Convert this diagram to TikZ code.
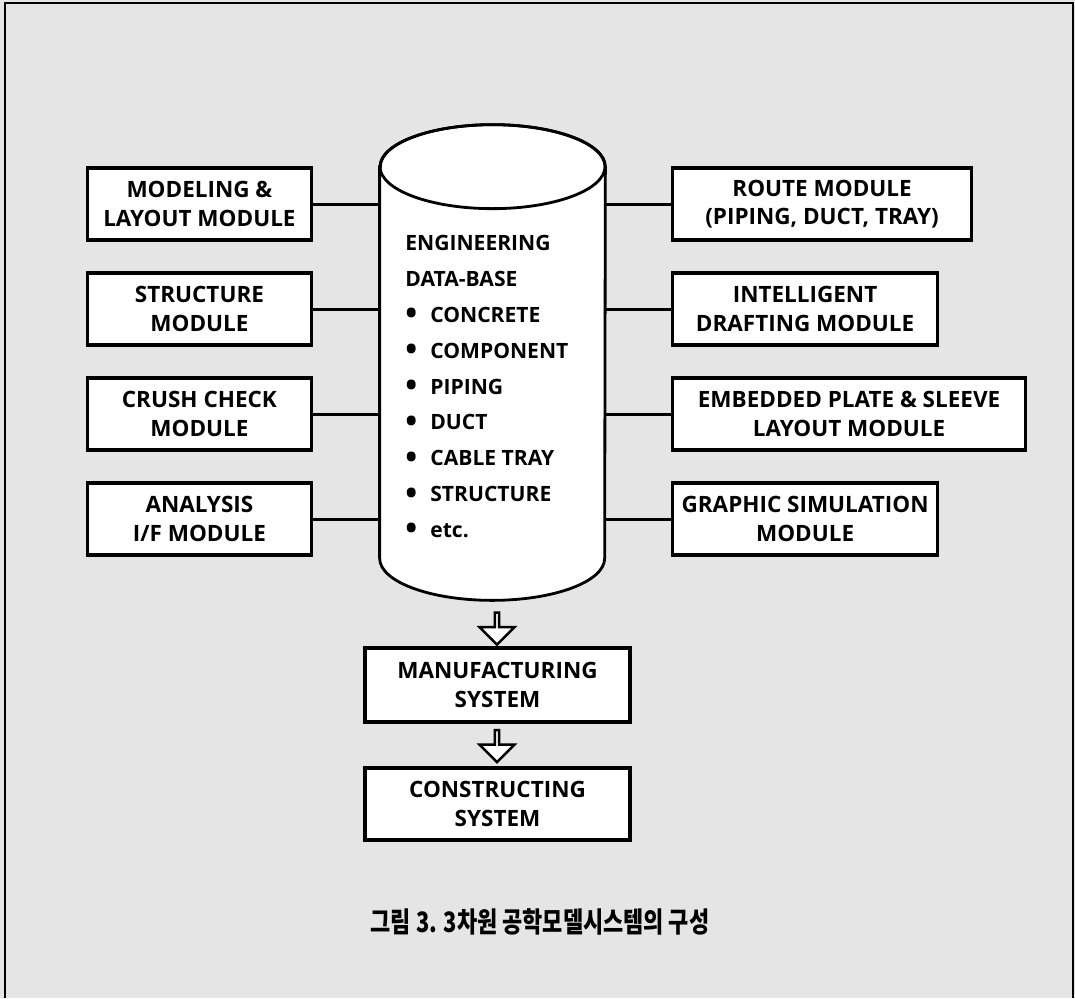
\documentclass[tikz,border=0pt]{standalone}
\usepackage{fontspec}
\setmainfont{Open Sans}
\newfontfamily\krfont{Noto Sans CJK KR}[FakeStretch=0.78]
\usetikzlibrary{shapes.arrows}
\newcommand{\dbitem}[1]{\makebox[0.5cm][l]{\raisebox{-0.12em}{\scalebox{1.5}{\textbullet}}}#1}
\begin{document}
\begin{tikzpicture}[
    module/.style={draw, line width=1.8pt, fill=white, align=center, inner sep=2pt,
      minimum height=1.44cm, font=\bfseries\fontsize{12.8}{16.3}\selectfont},
    lmod/.style={module, anchor=east, minimum width=4.48cm},
    rmod/.style={module, anchor=west},
    link/.style={line width=1.7pt},
    hollow/.style={single arrow, draw, line width=1.4pt, fill=white, inner sep=0pt,
      shape border rotate=270, minimum width=0.7cm, minimum height=0.64cm,
      single arrow head extend=0.18cm}]
    \useasboundingbox (0,0) rectangle (21.5,-19.96);
    \fill[black!10] (0,0) rectangle (21.5,-19.96);
    \draw[line width=1.2pt] (0.1,-19.96) -- (0.1,-0.06) -- (21.46,-0.06) -- (21.46,-19.96);
    % data base cylinder
    \node[minimum width=4.5cm, minimum height=7.82cm, inner sep=0pt] (db) at (9.85,-7.25) {};
    \draw[line width=1.6pt, fill=white] (db.north west) -- (db.south west)
      arc[start angle=180, end angle=360, x radius=2.25cm, y radius=0.84cm]
      -- (db.north east)
      arc[start angle=0, end angle=180, x radius=2.25cm, y radius=0.84cm] -- cycle;
    \draw[line width=1.6pt] (db.north) ellipse [x radius=2.25cm, y radius=0.84cm];
    \node[anchor=north west, align=left, inner sep=0pt,
      font=\bfseries\fontsize{12}{20.4}\selectfont] (dbtxt) at (8.1,-4.7)
      {ENGINEERING\\DATA-BASE\\\dbitem{CONCRETE}\\\dbitem{COMPONENT}\\\dbitem{PIPING}\\
       \dbitem{DUCT}\\\dbitem{CABLE TRAY}\\\dbitem{STRUCTURE}\\\dbitem{etc.}};
    % left modules
    \node[lmod] (mod) at (6.26,-4.08)  {MODELING \&\\LAYOUT MODULE};
    \node[lmod] (str) at (6.26,-6.18)  {STRUCTURE\\MODULE};
    \node[lmod] (cru) at (6.26,-8.28)  {CRUSH CHECK\\MODULE};
    \node[lmod] (ana) at (6.26,-10.38) {ANALYSIS\\I/F MODULE};
    % right modules
    \node[rmod, minimum width=5.98cm] (rte) at (13.42,-4.08)  {ROUTE MODULE\\(PIPING, DUCT, TRAY)};
    \node[rmod, minimum width=5.3cm]  (drf) at (13.42,-6.18)  {INTELLIGENT\\DRAFTING MODULE};
    \node[rmod, minimum width=7.06cm] (emb) at (13.42,-8.28)  {EMBEDDED PLATE \& SLEEVE\\LAYOUT MODULE};
    \node[rmod, minimum width=5.3cm]  (sim) at (13.42,-10.38) {GRAPHIC SIMULATION\\MODULE};
    \draw[link] (mod.east) -- (mod.east -| db.west);
    \draw[link] (str.east) -- (str.east -| db.west);
    \draw[link] (cru.east) -- (cru.east -| db.west);
    \draw[link] (ana.east) -- (ana.east -| db.west);
    \draw[link] (rte.west) -- (rte.west -| db.east);
    \draw[link] (drf.west) -- (drf.west -| db.east);
    \draw[link] (emb.west) -- (emb.west -| db.east);
    \draw[link] (sim.west) -- (sim.west -| db.east);
    % systems below
    \node[hollow] (ar1) at (9.94,-12.55) {};
    \node[module, minimum width=5.3cm, minimum height=1.48cm] (mfg) at (9.95,-13.7) {MANUFACTURING\\SYSTEM};
    \node[hollow] (ar2) at (9.94,-14.9) {};
    \node[module, minimum width=5.3cm, minimum height=1.44cm] (con) at (9.95,-16.08) {CONSTRUCTING\\SYSTEM};
    \node[font=\krfont\bfseries\fontsize{16}{19}\selectfont] (cap) at (10.8,-18.44)
      {그림 3. 3차원 공학모델시스템의 구성};
  \end{tikzpicture}
\end{document}
